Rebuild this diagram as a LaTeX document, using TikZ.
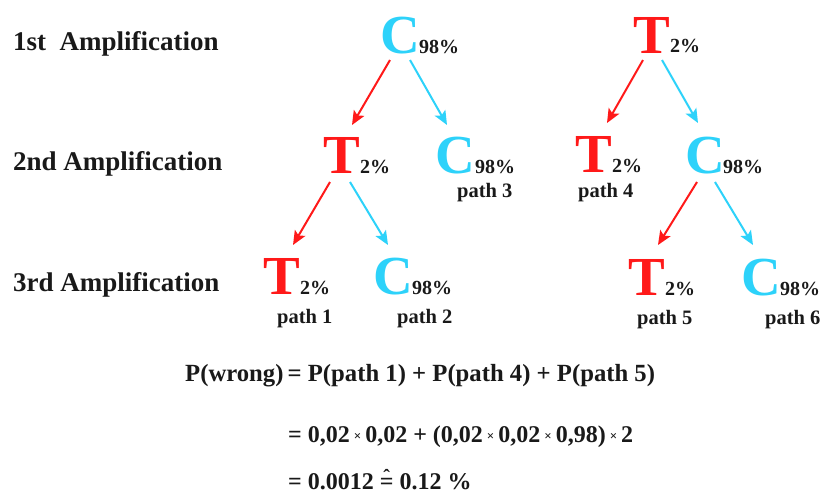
\documentclass[tikz,border=0pt]{standalone}
\usepackage{fontspec}
\setmainfont{Liberation Serif}
\usetikzlibrary{arrows.meta}
\definecolor{tred}{RGB}{255,25,25}
\definecolor{ccyan}{RGB}{45,210,250}
\newcommand{\mulsign}{\raisebox{2pt}{\fontsize{13}{13}\selectfont ×}}
\newcommand{\corresp}{\ooalign{=\cr\hidewidth\raisebox{0.22em}{\fontsize{20}{20}\selectfont\symbol{"02C6}}\hidewidth\cr}}
\tikzset{
  big/.style={font=\fontsize{55}{55}\selectfont\bfseries, inner sep=0pt, anchor=base west},
  pct/.style={font=\fontsize{20}{20}\selectfont\bfseries, inner sep=0pt, anchor=base west, text=black!90},
  pathlbl/.style={font=\fontsize{20.5}{20.5}\selectfont\bfseries, inner sep=0pt, anchor=base west, text=black!90},
  rowlbl/.style={font=\fontsize{27}{27}\selectfont\bfseries, inner sep=0pt, anchor=base west, text=black!90},
  eqline/.style={font=\fontsize{24}{24}\selectfont\bfseries, inner sep=0pt, anchor=base west, text=black!90},
  redarr/.style={draw=tred, line width=2pt, -{Stealth[length=14pt,width=12pt,inset=3pt]}},
  cyanarr/.style={draw=ccyan, line width=2pt, -{Stealth[length=14pt,width=12pt,inset=3pt]}}
}
\begin{document}
\begin{tikzpicture}[x=1pt,y=-1pt]
\fill[white] (0,0) rectangle (822,491);
\useasboundingbox (0,0) rectangle (822,491);

% row labels
\node[rowlbl] (r1) at (13,50) {1st\ \ Amplification};
\node[rowlbl] (r2) at (13,170) {2nd Amplification};
\node[rowlbl] (r3) at (13,291) {3rd Amplification};

% first amplification
\node[big, text=ccyan] (c1) at (380,53) {C};
\node[pct] (c1p) at (419,53) {98\%};
\node[big, text=tred] (t1) at (633,53) {T};
\node[pct] (t1p) at (670,52) {2\%};

% second amplification
\node[big, text=tred] (t2) at (323,173) {T};
\node[pct] (t2p) at (360,173) {2\%};
\node[big, text=ccyan] (c2) at (435,173) {C};
\node[pct] (c2p) at (475,173) {98\%};
\node[pathlbl] (p3) at (457,197) {path 3};
\node[big, text=tred] (t3) at (575,172) {T};
\node[pct] (t3p) at (612,172) {2\%};
\node[pathlbl] (p4) at (578,197) {path 4};
\node[big, text=ccyan] (c3) at (685,173) {C};
\node[pct] (c3p) at (723,173) {98\%};

% third amplification
\node[big, text=tred] (t4) at (263,294) {T};
\node[pct] (t4p) at (300,294) {2\%};
\node[pathlbl] (p1) at (277,323) {path 1};
\node[big, text=ccyan] (c4) at (373,294) {C};
\node[pct] (c4p) at (412,294) {98\%};
\node[pathlbl] (p2) at (397,323) {path 2};
\node[big, text=tred] (t5) at (628,295) {T};
\node[pct] (t5p) at (665,295) {2\%};
\node[pathlbl] (p5) at (637,324) {path 5};
\node[big, text=ccyan] (c5) at (741,295) {C};
\node[pct] (c5p) at (780,295) {98\%};
\node[pathlbl] (p6) at (765,324) {path 6};

% branches
\draw[redarr]  ([shift={(10,7)}]c1.base west) -- ([shift={(29,-48)}]t2.base west);
\draw[cyanarr] ([shift={(30,7)}]c1.base west) -- ([shift={(12,-48)}]c2.base west);
\draw[redarr]  ([shift={(10,7)}]t1.base west) -- ([shift={(32,-49)}]t3.base west);
\draw[cyanarr] ([shift={(29,7)}]t1.base west) -- ([shift={(13,-50)}]c3.base west);
\draw[redarr]  ([shift={(7,9)}]t2.base west) -- ([shift={(30,-49)}]t4.base west);
\draw[cyanarr] ([shift={(27,9)}]t2.base west) -- ([shift={(15,-49)}]c4.base west);
\draw[redarr]  ([shift={(12,9)}]c3.base west) -- ([shift={(30,-50)}]t5.base west);
\draw[cyanarr] ([shift={(30,9)}]c3.base west) -- ([shift={(12,-50)}]c5.base west);

% probability of a wrong base
\node[eqline, font=\fontsize{24.7}{24.7}\selectfont\bfseries] (e1) at (185,381) {P(wrong)\,= P(path 1) + P(path 4) + P(path 5)};
\node[eqline] (e2) at (288,442) {= 0,02\,\mulsign\,0,02 + (0,02\,\mulsign\,0,02\,\mulsign\,0,98)\,\mulsign\,2};
\node[eqline] (e3) at (288,489) {= 0.0012 \corresp\ 0.12 \%};
\end{tikzpicture}
\end{document}
